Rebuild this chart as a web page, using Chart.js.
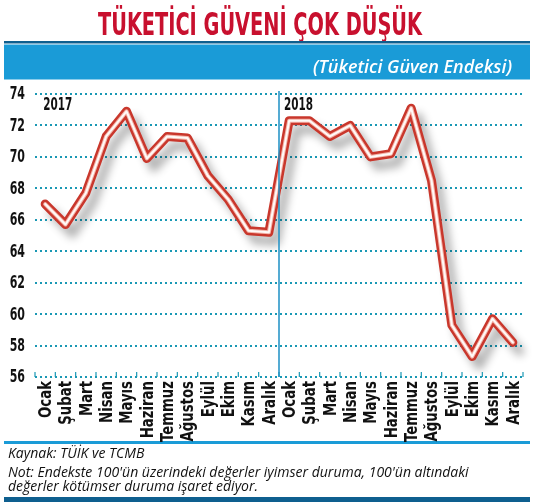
<!DOCTYPE html>
<html>
<head>
<meta charset="utf-8">
<script src="https://cdn.jsdelivr.net/npm/chart.js@4"></script>
<style>
  html, body { margin: 0; padding: 0; background: #fff; }
  #wrap { position: relative; width: 533px; height: 502px; }
</style>
</head>
<body>
<div id="wrap"><canvas id="confChart" width="533" height="502"></canvas></div>
<script>
// Tüketici Güven Endeksi, 2017 - 2018
const months = ['Ocak', 'Şubat', 'Mart', 'Nisan', 'Mayıs', 'Haziran', 'Temmuz', 'Ağustos', 'Eylül', 'Ekim', 'Kasım', 'Aralık'];
const years = ['2017', '2018'];
const values2017 = [67.0, 65.7, 67.7, 71.3, 72.9, 69.9, 71.3, 71.2, 68.8, 67.3, 65.3, 65.2];
const values2018 = [72.3, 72.3, 71.3, 72.0, 70.0, 70.2, 73.1, 68.5, 59.3, 57.3, 59.7, 58.2];
const yTicks = [56, 58, 60, 62, 64, 66, 68, 70, 72, 74];

const labels = months.concat(months);
const values = values2017.concat(values2018);

const condensed = '"DejaVu Sans Condensed", "Liberation Sans Narrow", sans-serif';
const teal = '#1a98b4';

// text drawn with a horizontal squeeze so it fits a given width
function fitText(ctx, text, x, y, width, font, align) {
    ctx.save();
    ctx.font = font;
    const w = ctx.measureText(text).width;
    const s = Math.min(1, width / w);
    ctx.translate(x, y);
    ctx.scale(s, 1);
    ctx.textAlign = align;
    ctx.fillText(text, 0, 0);
    ctx.restore();
}

// narrow bold text with a fixed squeeze factor
function narrowText(ctx, text, x, y, squeeze, font, align, angle) {
    ctx.save();
    ctx.font = font;
    ctx.translate(x, y);
    ctx.rotate(angle || 0);
    ctx.scale(squeeze, 1);
    ctx.textAlign = align;
    ctx.fillText(text, 0, 0);
    ctx.restore();
}

// header, band, footer and the year divider
const decor = {
    id: 'decor',
    beforeDraw(chart) {
        const ctx = chart.ctx;
        ctx.save();
        ctx.fillStyle = '#fff';
        ctx.fillRect(0, 0, chart.width, chart.height);

        ctx.fillStyle = '#c8102e';
        ctx.textBaseline = 'alphabetic';
        fitText(ctx, 'TÜKETİCİ GÜVENİ ÇOK DÜŞÜK', 260, 35, 324, 'bold 32px ' + condensed, 'center');

        ctx.fillStyle = '#0e5f8f';
        ctx.fillRect(4, 41, 526, 2.5);
        ctx.fillStyle = '#1a9bd7';
        ctx.fillRect(4, 44.5, 526, 35);
        ctx.fillStyle = '#fff';
        fitText(ctx, '(Tüketici Güven Endeksi)', 512, 73, 202, 'italic 600 18px "Open Sans", sans-serif', 'right');

        ctx.fillStyle = '#1a9bd7';
        ctx.fillRect(4, 441, 526, 3);
        ctx.fillStyle = '#0e5f8f';
        ctx.fillRect(4, 497, 526, 5);

        ctx.fillStyle = '#111';
        fitText(ctx, 'Kaynak: TÜİK ve TCMB', 8, 458, 144, 'italic 14px "Open Sans", sans-serif', 'left');
        fitText(ctx, "Not: Endekste 100'ün üzerindeki değerler iyimser duruma, 100'ün altındaki", 8, 477, 482, 'italic 14px "Open Sans", sans-serif', 'left');
        fitText(ctx, 'değerler kötümser duruma işaret ediyor.', 8, 491, 260, 'italic 14px "Open Sans", sans-serif', 'left');
        ctx.restore();
    },
    afterDraw(chart) {
        const ctx = chart.ctx;
        const x = chart.scales.x;
        const y = chart.scales.y;
        const area = chart.chartArea;
        const step = x.getPixelForValue(1) - x.getPixelForValue(0);
        ctx.save();
        // small ticks on the base line
        ctx.strokeStyle = teal;
        ctx.lineWidth = 1.2;
        for (let i = 0; i <= labels.length; i++) {
            const px = x.getPixelForValue(0) - step / 2 + i * step;
            ctx.beginPath();
            ctx.moveTo(px, area.bottom);
            ctx.lineTo(px, area.bottom - 5);
            ctx.stroke();
        }
        // year divider
        const div = (x.getPixelForValue(11) + x.getPixelForValue(12)) / 2;
        ctx.strokeStyle = '#1c8fc4';
        ctx.lineWidth = 1.5;
        ctx.beginPath();
        ctx.moveTo(div, area.top - 3);
        ctx.lineTo(div, area.bottom);
        ctx.stroke();

        ctx.fillStyle = '#111';
        // year labels
        ctx.textBaseline = 'alphabetic';
        fitText(ctx, years[0], x.getPixelForValue(0) - 2, area.top + 16, 29, 'bold 18px ' + condensed, 'left');
        fitText(ctx, years[1], div + 5, area.top + 16, 29, 'bold 18px ' + condensed, 'left');
        // y labels
        ctx.textBaseline = 'middle';
        y.ticks.forEach(t => {
            narrowText(ctx, String(t.value), 25, y.getPixelForValue(t.value) + 1, 0.72, 'bold 17px ' + condensed, 'right');
        });
        // x labels, rotated
        labels.forEach((lab, i) => {
            narrowText(ctx, lab, x.getPixelForValue(i) + 1, area.bottom + 4, 0.82, 'bold 18px ' + condensed, 'right', -Math.PI / 2);
        });
        ctx.restore();
    }
};

// soft shadow under the red line
const lineShadow = {
    id: 'lineShadow',
    beforeDatasetDraw(chart, args) {
        if (args.index !== 0) return;
        const ctx = chart.ctx;
        ctx.save();
        ctx.shadowColor = 'rgba(0,0,0,0.3)';
        ctx.shadowBlur = 9;
        ctx.shadowOffsetX = 7;
        ctx.shadowOffsetY = 9;
    },
    afterDatasetDraw(chart, args) {
        if (args.index !== 0) return;
        chart.ctx.restore();
    }
};

const ctx = document.getElementById('confChart').getContext('2d');
new Chart(ctx, {
    type: 'line',
    data: {
        labels: labels,
        datasets: [{
            data: values,
            borderColor: '#c9372c',
            borderWidth: 9,
            pointRadius: 0,
            tension: 0,
            borderJoinStyle: 'round',
            borderCapStyle: 'round',
            clip: 20,
            order: 2
        }, {
            data: values,
            borderColor: '#f3b3a8',
            borderWidth: 4,
            pointRadius: 0,
            tension: 0,
            borderJoinStyle: 'round',
            borderCapStyle: 'round',
            clip: 20,
            order: 1
        }, {
            data: values,
            borderColor: '#fffaf8',
            borderWidth: 2,
            pointRadius: 0,
            tension: 0,
            borderJoinStyle: 'round',
            borderCapStyle: 'round',
            clip: 20,
            order: 0
        }]
    },
    options: {
        responsive: false,
        animation: false,
        layout: {
            padding: { top: 94, bottom: 61, left: 0, right: 10 }
        },
        scales: {
            x: {
                offset: true,
                grid: { display: false },
                border: { display: false },
                ticks: { display: false },
                afterFit(scale) { scale.height = 64; }
            },
            y: {
                min: 56,
                max: 74,
                afterBuildTicks(scale) { scale.ticks = yTicks.map(v => ({ value: v })); },
                grid: {
                    color: teal,
                    lineWidth: 2,
                    drawTicks: false
                },
                border: { display: false, dash: [2, 3] },
                ticks: { display: false },
                afterFit(scale) { scale.width = 35; }
            }
        },
        plugins: {
            legend: { display: false },
            tooltip: { enabled: false }
        }
    },
    plugins: [decor, lineShadow]
});
</script>
</body>
</html>
